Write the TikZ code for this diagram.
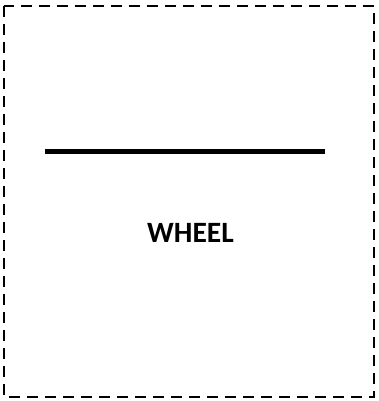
\documentclass[tikz,border=0pt]{standalone}
\usepackage{fontspec}
\setmainfont{Carlito}
\tikzset{
  frame/.style={draw=black, line width=2.4pt, dash pattern=on 11pt off 7pt},
  bar/.style={draw=black, line width=5pt},
  label/.style={font=\fontsize{29.5}{31}\selectfont\bfseries, inner sep=0pt}
}
\begin{document}
\begin{tikzpicture}[x=1pt,y=-1pt]
\useasboundingbox (0,0) rectangle (379,401);
\coordinate (tl) at (4,6);
\coordinate (br) at (374,397);
\draw[frame] (tl) rectangle (br);
\coordinate (b1) at (45,151);
\coordinate (b2) at (325,151);
\draw[bar] (b1) -- (b2);
\node[label] (wheel) at (190.5,233) {WHEEL};
\end{tikzpicture}
\end{document}
